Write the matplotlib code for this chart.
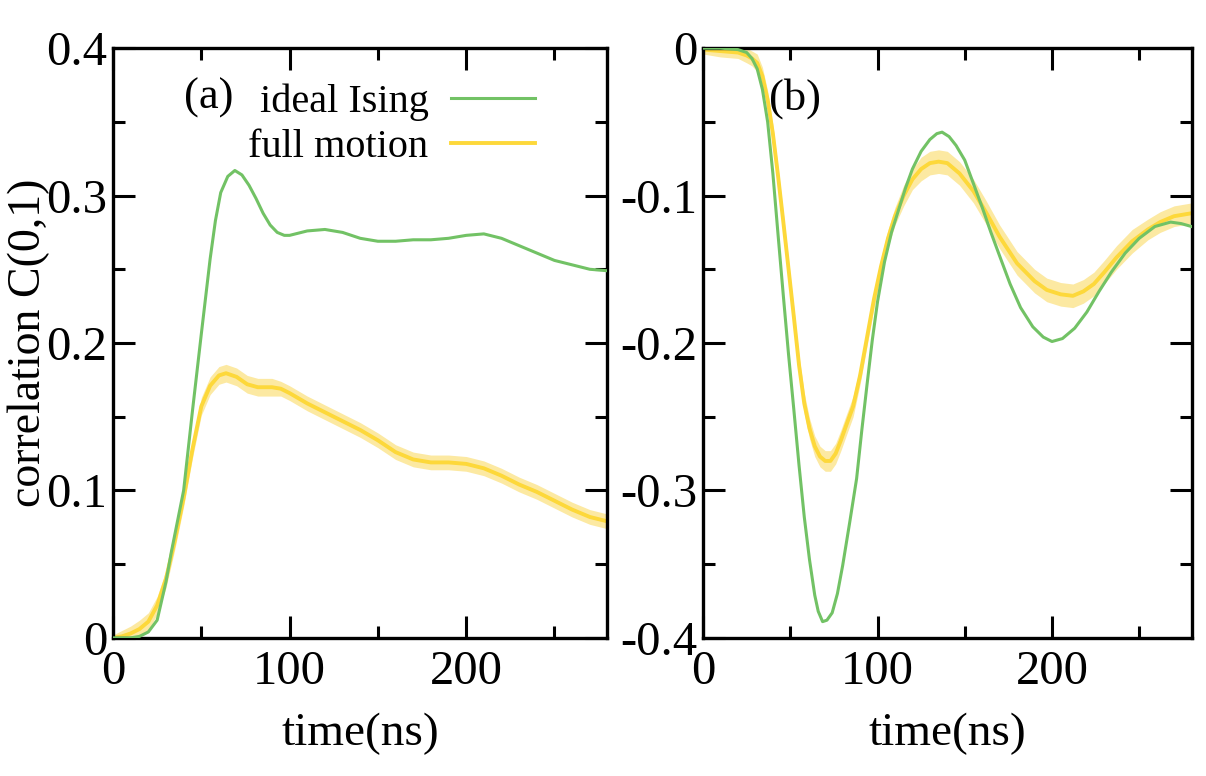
import numpy as np
import matplotlib
matplotlib.use("Agg")
import matplotlib.pyplot as plt
from matplotlib.ticker import MultipleLocator, FixedLocator, FixedFormatter
from matplotlib.lines import Line2D

plt.rcParams['font.family'] = ['Liberation Serif', 'DejaVu Serif']
plt.rcParams['axes.unicode_minus'] = False

GREEN = '#72c265'
YELLOW = '#fdd83a'
BAND = '#fce9a2'

# ---- panel (a): correlation C(0,1), positive ----
t_a_ideal = [0, 10, 15, 20, 25, 30, 33, 36, 40, 45, 50, 55, 58, 61, 65, 69, 73, 77,
             81, 85, 89, 93, 97, 100, 110, 120, 130, 140, 150, 160, 170, 180, 190,
             200, 210, 220, 230, 240, 250, 260, 270, 280]
c_a_ideal = [0.0, 0.0, 0.001, 0.004, 0.012, 0.038, 0.058, 0.076, 0.100, 0.154, 0.206,
             0.257, 0.283, 0.302, 0.313, 0.317, 0.314, 0.307, 0.298, 0.288, 0.280,
             0.275, 0.273, 0.273, 0.276, 0.277, 0.275, 0.271, 0.269, 0.269, 0.270,
             0.270, 0.271, 0.273, 0.274, 0.271, 0.266, 0.261, 0.256, 0.253, 0.250,
             0.249]

t_a_full = [0, 5, 10, 15, 20, 25, 30, 35, 40, 45, 50, 55, 60, 64, 70, 76, 82, 90, 95,
            100, 110, 120, 130, 140, 150, 160, 170, 180, 190, 200, 210, 220, 230,
            240, 250, 260, 270, 280]
c_a_full = [0.0, 0.001, 0.003, 0.006, 0.011, 0.022, 0.040, 0.066, 0.095, 0.128, 0.157,
            0.171, 0.178, 0.1795, 0.177, 0.172, 0.170, 0.170, 0.169,
            0.166, 0.159, 0.153, 0.147, 0.141, 0.134, 0.126, 0.121, 0.119, 0.119,
            0.118, 0.115, 0.110, 0.104, 0.099, 0.093, 0.087, 0.082, 0.079]
e_a_full = [0.002, 0.004, 0.005, 0.006, 0.006, 0.006, 0.006, 0.006, 0.006, 0.006, 0.006,
            0.006, 0.006, 0.006, 0.006, 0.006, 0.006, 0.006, 0.005,
            0.005, 0.005, 0.005, 0.005, 0.005, 0.005, 0.005, 0.005, 0.005, 0.005,
            0.005, 0.005, 0.005, 0.005, 0.005, 0.005, 0.005, 0.005, 0.005]

# ---- panel (b): correlation, negative ----
t_b_ideal = [0, 10, 20, 25, 28, 31, 34, 37, 40, 43, 46, 49, 52, 55, 58, 61, 64, 66,
             68.5, 71, 74, 77, 80, 84, 88, 91, 94, 97, 100, 104, 108, 112, 116, 120,
             125, 130, 134, 137, 141, 145, 150, 155, 160, 165, 170, 176, 182, 189,
             195, 200, 206, 213, 220, 227, 234, 242, 250, 259, 268, 274, 280]
c_b_ideal = [0.0, 0.0, -0.001, -0.003, -0.007, -0.014, -0.028, -0.050, -0.085, -0.127,
             -0.168, -0.208, -0.245, -0.283, -0.318, -0.347, -0.371, -0.382, -0.389,
             -0.388, -0.383, -0.370, -0.351, -0.322, -0.292, -0.259, -0.228, -0.198,
             -0.172, -0.145, -0.125, -0.110, -0.095, -0.082, -0.070, -0.062, -0.058,
             -0.057, -0.060, -0.066, -0.076, -0.092, -0.108, -0.125, -0.141, -0.160,
             -0.176, -0.189, -0.196, -0.199, -0.197, -0.190, -0.179, -0.165, -0.152,
             -0.139, -0.129, -0.121, -0.118, -0.119, -0.121]

t_b_full = [0, 10, 20, 25, 28, 31, 34, 37, 40, 43, 46, 49, 52, 55, 58, 61, 64, 67, 70,
            73, 76, 79, 82, 86, 90, 94, 98, 102, 106, 110, 115, 120, 125, 130, 135,
            140, 147, 155, 162, 170, 180, 190, 197, 205, 212, 218, 224, 230, 237, 246,
            255, 262, 270, 280]
c_b_full = [-0.001, -0.002, -0.003, -0.005, -0.007, -0.010, -0.019, -0.035, -0.058,
            -0.087, -0.118, -0.150, -0.182, -0.215, -0.241, -0.258, -0.270, -0.277,
            -0.280, -0.280, -0.275, -0.266, -0.256, -0.243, -0.222, -0.196, -0.170,
            -0.148, -0.129, -0.114, -0.100, -0.089, -0.082, -0.078, -0.077, -0.078,
            -0.085, -0.097, -0.111, -0.128, -0.146, -0.158, -0.164, -0.167, -0.168,
            -0.165, -0.160, -0.152, -0.142, -0.131, -0.123, -0.118, -0.114, -0.112]
e_b_full = [0.003, 0.004, 0.004, 0.005, 0.005, 0.006, 0.006, 0.006, 0.006,
            0.006, 0.006, 0.006, 0.006, 0.006, 0.007, 0.007, 0.007, 0.007,
            0.007, 0.007, 0.007, 0.007, 0.007, 0.007, 0.006, 0.006, 0.006,
            0.006, 0.006, 0.006, 0.007, 0.007, 0.008, 0.008, 0.008, 0.008,
            0.008, 0.008, 0.008, 0.008, 0.008, 0.008, 0.008, 0.008, 0.008,
            0.008, 0.008, 0.008, 0.008, 0.008, 0.007, 0.007, 0.007, 0.007]

a_yticks = [0, 0.1, 0.2, 0.3, 0.4]
a_ylabels = ['0', '0.1', '0.2', '0.3', '0.4']
b_yticks = [-0.4, -0.3, -0.2, -0.1, 0]
b_ylabels = ['-0.4', '-0.3', '-0.2', '-0.1', '0']
x_ticks = [0, 100, 200]
x_labels = ['0', '100', '200']


def style_axes(ax, yticks, ylabels, ylim):
    ax.set_xlim(0, 280)
    ax.set_ylim(*ylim)
    ax.xaxis.set_major_locator(FixedLocator(x_ticks))
    ax.xaxis.set_major_formatter(FixedFormatter(x_labels))
    ax.xaxis.set_minor_locator(MultipleLocator(50))
    ax.yaxis.set_major_locator(FixedLocator(yticks))
    ax.yaxis.set_major_formatter(FixedFormatter(ylabels))
    ax.yaxis.set_minor_locator(MultipleLocator(0.05))
    ax.tick_params(which='both', direction='in', top=True, right=True, width=2.2)
    ax.tick_params(which='major', length=16, labelsize=35)
    ax.tick_params(axis='x', which='major', pad=9)
    ax.tick_params(axis='y', which='major', pad=4)
    ax.tick_params(which='minor', length=8.5)
    for sp in ax.spines.values():
        sp.set_linewidth(2.4)
    ax.set_xlabel('time(ns)', fontsize=34, labelpad=13)


fig = plt.figure(figsize=(12.06, 7.76), dpi=100)
ax1 = fig.add_axes([0.0937, 0.178, 0.410, 0.760])
ax2 = fig.add_axes([0.583, 0.178, 0.405, 0.760])

# panel (a)
lo = np.array(c_a_full) - np.array(e_a_full)
hi = np.array(c_a_full) + np.array(e_a_full)
ax1.fill_between(t_a_full, lo, hi, color=BAND, lw=0, zorder=1)
ax1.plot(t_a_full, c_a_full, color=YELLOW, lw=2.8, zorder=2)
ax1.plot(t_a_ideal, c_a_ideal, color=GREEN, lw=2.2, zorder=3)
style_axes(ax1, a_yticks, a_ylabels, (0, 0.4))
ax1.set_ylabel('correlation C(0,1)', fontsize=33)
ax1.yaxis.set_label_coords(-0.128, 0.5)
ax1.text(0.194, 0.915, '(a)', transform=ax1.transAxes, fontsize=32,
         ha='center', va='center')
handles = [Line2D([], [], color=GREEN, lw=2.2), Line2D([], [], color=YELLOW, lw=2.8)]
ax1.legend(handles, ['ideal Ising', 'full motion'], loc='upper right',
           bbox_to_anchor=(0.854, 0.94), frameon=False, markerfirst=False,
           fontsize=29, handlelength=2.1, handletextpad=0.55, labelspacing=0.2,
           borderpad=0, borderaxespad=0)

# panel (b)
lo = np.array(c_b_full) - np.array(e_b_full)
hi = np.array(c_b_full) + np.array(e_b_full)
ax2.fill_between(t_b_full, lo, hi, color=BAND, lw=0, zorder=1)
ax2.plot(t_b_full, c_b_full, color=YELLOW, lw=2.8, zorder=2)
ax2.plot(t_b_ideal, c_b_ideal, color=GREEN, lw=2.2, zorder=3)
style_axes(ax2, b_yticks, b_ylabels, (-0.4, 0))
ax2.text(0.188, 0.915, '(b)', transform=ax2.transAxes, fontsize=32,
         ha='center', va='center')

fig.savefig('out.png', dpi=100)
